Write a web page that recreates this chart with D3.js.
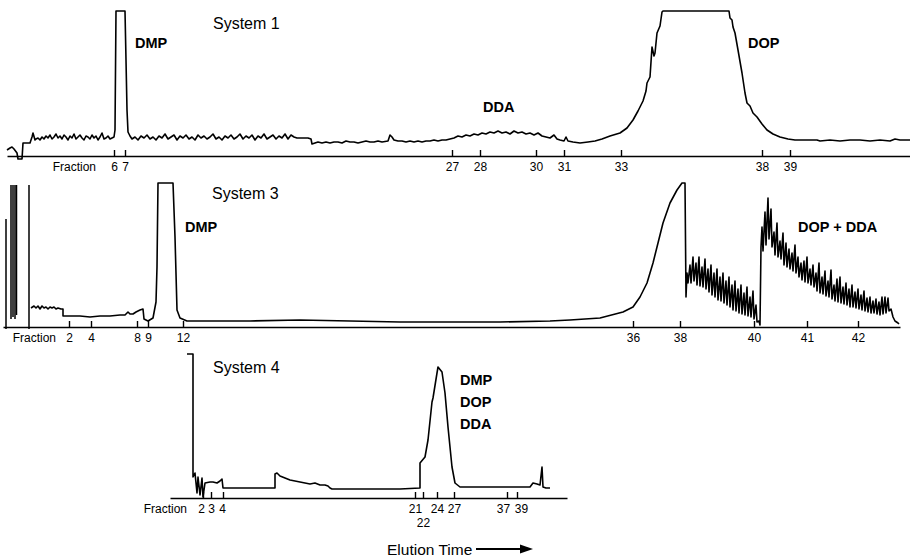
<!DOCTYPE html>
<html><head><meta charset="utf-8">
<script src="https://cdn.jsdelivr.net/npm/d3@7"></script>
<style>
html,body{margin:0;padding:0;background:#fff;}
svg{display:block;}
text{font-family:"Liberation Sans",Arial,Helvetica,sans-serif;fill:#000;}
</style></head>
<body><svg id="c" width="910" height="559"></svg>
<script>
// ---------- DATA (elution time in arbitrary units, detector response in arbitrary units) ----------
const sys1Trace = [
[0.7,6],[1.0,8],[1.2,9],[1.4,7],[1.7,3],[1.8,-3],[2.2,-3],[2.3,13],[3.0,13],[3.2,19],[3.3,23],[3.5,16],
[3.6,17],[3.8,18],[4.0,16],[4.2,19],[4.4,17],[4.6,20],[4.8,18],[5.0,21],[5.2,17],[5.4,19],[5.6,22],[5.8,18],
[6.0,20],[6.2,17],[6.4,21],[6.6,19],[6.8,16],[7.0,20],[7.2,18],[7.4,22],[7.6,17],[7.8,19],[8.0,21],[8.2,18],
[8.4,16],[8.6,20],[8.8,19],[9.0,17],[9.2,21],[9.4,18],[9.6,20],[9.8,16],[10.0,19],[10.2,23],[10.4,17],[10.6,18],
[10.8,20],[11.0,17],[11.2,18],
[11.4,19],[11.5,26],[11.6,145],[12.5,145],[12.6,96],[12.7,46],[12.8,24],[13.0,20],
[13.2,17],[13.5,19],[13.8,16],[14.1,20],[14.4,18],[14.7,21],[15.0,17],[15.3,19],[15.6,16],[15.9,20],[16.2,18],
[16.5,22],[16.8,17],[17.1,19],[17.4,21],[17.7,16],[18.0,20],[18.3,18],[18.6,21],[18.9,17],[19.2,19],[19.5,16],
[19.8,21],[20.1,18],[20.4,20],[20.7,17],[21.0,19],[21.3,22],[21.6,17],[21.9,19],[22.2,16],[22.5,20],[22.8,18],
[23.1,21],[23.4,17],[23.7,19],[24.0,22],[24.3,17],[24.6,20],[24.9,18],[25.2,21],[25.5,16],[25.8,20],[26.1,18],
[26.4,22],[26.7,17],[27.0,19],[27.3,21],[27.6,17],[27.9,20],[28.2,18],[28.5,22],[28.8,17],[29.1,21],[29.4,19],
[29.7,18],[30.0,18],
[30.4,18],[30.8,18],[31.1,17],[31.2,12],[31.5,13],[31.8,14],[32.2,13],[32.6,14],[33.0,13],[33.4,14],[33.8,14],
[34.2,13],[34.6,15],[35.0,14],[35.4,14],[35.8,13],[36.2,14],[36.6,15],[37.0,14],[37.4,14],[37.8,15],[38.2,14],
[38.8,15],[39.0,21],[39.2,19],[39.4,16],[39.8,15],[40.2,15],[40.6,14],[41.0,15],[41.4,14],[41.8,15],[42.2,14],
[42.6,15],[43.0,15],[43.4,16],[43.8,15],[44.2,16],[44.6,16],[45.0,17],
[45.4,18],[45.8,20],[46.2,19],[46.6,21],[47.0,20],[47.4,22],[47.8,21],[48.2,23],[48.6,22],[49.0,24],[49.4,23],
[49.8,25],[50.2,23],[50.6,24],[51.0,22],[51.4,25],[51.8,23],[52.2,24],[52.6,22],[53.0,23],[53.4,21],[53.8,23],
[54.2,20],[54.6,19],[55.0,18],[55.4,21],[55.7,17],[56.0,16],[56.4,15],[56.6,19],[56.8,15],[57.3,14],[58.0,13],
[58.8,14],[59.5,15],[60.2,17],[61.0,20],[62.0,23],[62.7,28],[63.3,36],[63.8,45],[64.3,55],[64.6,65],[64.7,73],
[65.0,79],[65.2,109],[65.4,100],[65.5,103],[65.7,123],[66.0,130],[66.2,144],[66.3,145],[72.9,145],[73.0,138],
[73.2,136],[73.3,129],[73.5,123],[73.8,106],[74.2,83],[74.5,63],[74.7,53],[75.0,50],[75.3,43],[75.7,39],
[76.2,32],[76.7,26],[77.3,22],[78.0,19],[78.8,17],[79.5,16],[80.5,16],[81.7,16],[82.0,15],[83.0,16],[84.0,15],
[85.0,16],[86.0,16],[87.0,15],[88.0,16],[89.0,15],[89.5,17],[90.0,16],[91.0,16]
];
const sys1FractionTimes = [11.4, 12.5, 45.2, 48.0, 53.6, 56.4, 62.1, 76.2, 79.0];
const sys1FractionLabels = ["6","7","27","28","30","31","33","38","39"];

const sys3Spikes = [[0.6,-2,108],[1.1,8,142],[1.3,10,142],[1.5,8,142],[1.65,12,142],[2.9,-2,142]];
const sys3Trace = [
[3.1,19],[3.4,21],[3.6,19],[3.8,21],[4.0,18],[4.2,21],[4.4,19],[4.6,20],[4.8,18],[5.0,20],[5.2,19],[5.4,20],
[5.6,18],[5.8,19],[6.1,18],[6.3,18],[6.3,11],[7.0,11],[8.0,11],[9.0,10],[10.0,11],[11.0,11],[12.0,12],[12.5,12],
[12.8,15],[13.0,13],[13.3,13],[13.6,15],[14.0,17],[14.3,18],[14.4,8],[14.8,6],[15.3,9],[15.6,25],[15.7,60],
[15.8,144],[17.3,144],[17.5,90],[17.7,17],[18.0,9],[18.7,6],[20,6],[25,6],[30,7],[35,6],[40,5],[45,5],[50,5],
[55,6],[57,7],[60,9],[62.3,15],[63.3,20],[64.0,30],[64.7,44],[65.3,64],[65.8,84],[66.3,104],[67.0,124],
[67.7,137],[68.2,144],[68.5,144],
[68.6,30],[68.7,54],[68.8,44],[69.0,62],[69.1,44],[69.3,70],[69.4,46],[69.6,64],[69.7,42],[69.9,70],[70.0,41],
[70.2,60],[70.3,40],[70.5,68],[70.6,38],[70.8,58],[70.9,35],[71.1,62],[71.2,32],[71.4,54],[71.5,30],[71.7,58],
[71.8,27],[72.0,50],[72.1,26],[72.3,54],[72.4,24],[72.6,46],[72.7,22],[72.9,50],[73.0,20],[73.2,42],[73.3,17],
[73.5,46],[73.6,16],[73.8,38],[73.9,14],[74.1,42],[74.2,13],[74.4,34],[74.5,12],[74.7,40],[74.8,11],[75.0,30],
[75.1,10],[75.3,36],[75.4,8],[75.6,22],[75.7,5],[75.9,6],[76.0,2],
[76.1,80],[76.2,100],[76.3,76],[76.5,115],[76.6,82],[76.8,129],[76.9,88],[77.1,118],[77.2,80],[77.4,95],
[77.5,72],[77.7,104],[77.8,70],[78.0,86],[78.1,68],[78.3,94],[78.4,62],[78.6,84],[78.7,60],[78.9,78],[79.0,58],
[79.2,74],[79.3,56],[79.5,82],[79.6,54],[79.8,70],[79.9,50],[80.1,64],[80.2,47],[80.4,66],[80.5,45],[80.7,70],
[80.8,44],[81.0,58],[81.1,42],[81.3,62],[81.4,40],[81.6,54],[81.7,36],[81.9,64],[82.0,34],[82.2,50],[82.3,33],
[82.5,56],[82.6,31],[82.8,46],[82.9,30],[83.1,57],[83.2,28],[83.4,42],[83.5,26],[83.7,48],[83.8,25],[84.0,50],
[84.1,24],[84.3,40],[84.4,23],[84.6,44],[84.7,22],[84.9,38],[85.0,20],[85.2,42],[85.3,20],[85.5,35],[85.6,19],
[85.8,38],[85.9,18],[86.1,32],[86.2,17],[86.4,36],[86.5,16],[86.7,29],[86.8,15],[87.0,30],[87.1,14],[87.3,26],
[87.4,14],[87.6,28],[87.7,13],[87.9,25],[88.0,12],[88.2,30],[88.3,13],[88.5,30],[88.6,14],[88.8,29],[88.9,16],
[89.1,18],[89.3,10],[89.5,6],[89.8,4],[89.9,3]
];
const sys3FractionTimes = [6.9, 9.1, 13.7, 14.8, 18.3, 63.3, 68.0, 75.4, 80.7, 85.8];
const sys3FractionLabels = ["2","4","8","9","12","36","38","40","41","42"];

const sys4Trace = [
[18.7,144],[19.3,144],[19.3,21],[19.5,25],[19.7,5],[19.8,21],[20.0,3],[20.2,20],[20.3,1],[20.5,15],[21.0,16],
[21.3,16],[21.7,15],[22.0,17],[22.2,19],[22.3,10],[25.0,10],[27.5,10],[27.5,24],[27.7,25],[28.0,22],[28.5,20],
[29.0,18],[29.5,17],[30.0,16],[30.5,15],[31.0,14],[31.5,15],[32.0,13],[32.5,13],[32.8,12],[33.0,10],[33.2,9],
[36.0,9],[40.0,9],[42.0,10],[42.0,35],[42.5,41],[42.8,58],[43.2,96],[43.3,100],[43.7,125],[43.8,131],[44.2,126],
[44.5,105],[44.8,71],[45.2,31],[45.5,15],[46.0,11],[50.0,11],[53.0,11],[53.3,15],[53.7,14],[54.0,13],[54.2,31],
[54.3,11],[54.6,10],[55.0,10]
];
const sys4FractionTimes = [20.3, 21.1, 22.3, 41.5, 42.3, 43.7, 45.4, 50.7, 51.7];
const sys4FractionLabels = ["2","3","4","21","22","24","27","37","39"];

const panelTitles = ["System 1","System 3","System 4"];

// ---------- DRAWING ----------
const svg = d3.select("#c");
const line = d3.line().x(d => d[0]).y(d => d[1]);

function panel(cfg){
  const x = d3.scaleLinear().domain(cfg.xDomain).range(cfg.xRange);
  const y = d3.scaleLinear().domain(cfg.yDomain).range(cfg.yRange);
  const g = svg.append("g");
  const shift = cfg.labelShift || {};
  const ax = d3.axisBottom(x).tickValues(cfg.fracTimes)
     .tickFormat((d,i)=>cfg.fracLabels[i]).tickSizeInner(-6).tickSizeOuter(0).tickPadding(11);
  const axg = g.append("g").attr("transform",`translate(0,${cfg.yRange[0]})`).call(ax);
  axg.select(".domain").attr("stroke","#000").attr("stroke-width",1.6);
  axg.selectAll(".tick line").attr("stroke","#000").attr("stroke-width",1.4).attr("y2",-6).attr("y1",1);
  axg.selectAll(".tick text").attr("font-size",12).attr("font-family","Liberation Sans, Arial, sans-serif")
     .attr("fill","#000").attr("dy","0.35em").attr("y",11)
     .each(function(d,i){
        const lab = cfg.fracLabels[i];
        const t = d3.select(this);
        if(cfg.secondLine && cfg.secondLine.includes(lab)) t.attr("y",25);
        if(shift[lab]) t.attr("dx", shift[lab]);
     });
  g.append("text").attr("x",cfg.fracX).attr("y",cfg.yRange[0]+15).attr("font-size",12)
     .attr("text-anchor","end").text("Fraction");
  if(cfg.spikes){
    cfg.spikes.forEach(s=>{
      g.append("path").attr("d", line([[x(s[0]),y(s[1])],[x(s[0]),y(s[2])]]))
       .attr("stroke","#000").attr("stroke-width",1.5).attr("fill","none");
    });
  }
  g.append("path").attr("d", line(cfg.trace.map(d=>[x(d[0]),y(d[1])])))
    .attr("fill","none").attr("stroke","#000").attr("stroke-width",1.6).attr("stroke-linejoin","round");
  g.append("text").attr("x",cfg.titleX).attr("y",cfg.titleY).attr("font-size",16).text(cfg.title);
  cfg.labels.forEach(l=>{
    g.append("text").attr("x",l[0]).attr("y",l[1]).attr("font-size",14.5).attr("font-weight","bold").text(l[2]);
  });
}

panel({xDomain:[0.7,91.0], xRange:[7,910], yDomain:[0,145], yRange:[156,11],
  trace:sys1Trace, fracTimes:sys1FractionTimes, fracLabels:sys1FractionLabels, fracX:96,
  title:panelTitles[0], titleX:213, titleY:29,
  labels:[[135,48,"DMP"],[483,112,"DDA"],[748,48,"DOP"]]});

panel({xDomain:[0.3,90.0], xRange:[3,900], yDomain:[0,144], yRange:[327,183],
  trace:sys3Trace, spikes:sys3Spikes, fracTimes:sys3FractionTimes, fracLabels:sys3FractionLabels, fracX:56,
  title:panelTitles[1], titleX:212, titleY:199,
  labels:[[185,232,"DMP"],[798,232,"DOP + DDA"]]});

panel({xDomain:[17.0,56.7], xRange:[170,567], yDomain:[0,144], yRange:[498,354],
  trace:sys4Trace, fracTimes:sys4FractionTimes, fracLabels:sys4FractionLabels, fracX:187, secondLine:["22"],
  labelShift:{"2":-2,"4":-1,"37":-4,"39":4},
  title:panelTitles[2], titleX:213, titleY:373,
  labels:[[460,385,"DMP"],[460,407,"DOP"],[460,429,"DDA"]]});

svg.append("text").attr("x",387).attr("y",555).attr("font-size",15.5).text("Elution Time");
svg.append("path").attr("d","M476,549 L522,549").attr("stroke","#000").attr("stroke-width",2);
svg.append("path").attr("d","M533,549 L520,544.5 L520,553.5 Z").attr("fill","#000");
</script></body></html>
